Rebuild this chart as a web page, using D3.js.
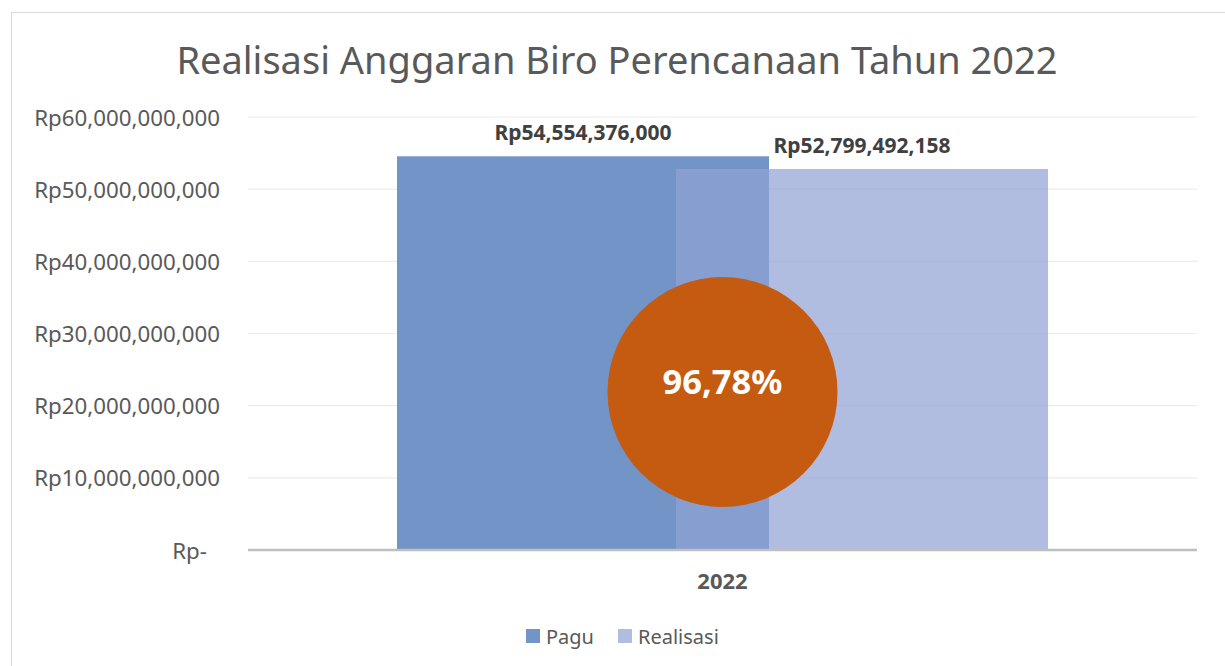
<!DOCTYPE html>
<html>
<head>
<meta charset="utf-8">
<script src="https://cdn.jsdelivr.net/npm/d3@7"></script>
<style>
  html, body { margin: 0; padding: 0; background: #fff; }
  svg { display: block; font-family: "Noto Sans", "Open Sans", sans-serif; }
</style>
</head>
<body>
<svg id="chart" width="1225" height="666"></svg>
<script>
// data
const title = "Realisasi Anggaran Biro Perencanaan Tahun 2022";
const categories = ["2022"];
const seriesNames = ["Pagu", "Realisasi"];
const paguValues = [54554376000];
const realisasiValues = [52799492158];
const yTicks = [0, 10e9, 20e9, 30e9, 40e9, 50e9, 60e9];
const percentLabel = "96,78%";

const colors = { Pagu: "#7294c6", Realisasi: "#8fa2d3" };
const realisasiOpacity = 0.71;

const W = 1225, H = 666;
const svg = d3.select("#chart");

// outer frame
svg.append("rect")
  .attr("x", 11.5).attr("y", 12.5)
  .attr("width", W + 10).attr("height", H + 10)
  .attr("fill", "none").attr("stroke", "#d9d9d9").attr("stroke-width", 1);

const margin = { left: 248, right: 28, top: 117, bottom: 116 };
const plotBottom = H - margin.bottom;

const y = d3.scaleLinear().domain([0, 60e9]).range([plotBottom, margin.top]);
const x = d3.scaleBand().domain(categories).range([margin.left, W - margin.right]);

const fmt = v => v === 0 ? "Rp-" : "Rp" + d3.format(",")(v);

// gridlines
svg.append("g")
  .selectAll("line")
  .data(yTicks.filter(d => d > 0))
  .join("line")
  .attr("x1", margin.left).attr("x2", W - margin.right)
  .attr("y1", d => y(d)).attr("y2", d => y(d))
  .attr("stroke", "#ececec").attr("stroke-width", 1.2);

// y axis labels
const yAxis = d3.axisLeft(y).tickValues(yTicks).tickFormat(fmt).tickSize(0).tickPadding(0);
const yG = svg.append("g").attr("transform", `translate(220,0)`).call(yAxis);
yG.select(".domain").remove();
yG.selectAll("text")
  .attr("fill", "#595959")
  .style("font-size", "22.3px")
  .style("font-family", "'Noto Sans', sans-serif")
  .attr("dy", "0.36em")
  .attr("x", d => d === 0 ? -13 : 0);

// bars
const groupW = x.bandwidth() * 0.686;
const barW = groupW / 1.75;
const overlap = barW * 0.25;
const gx = x("2022") + (x.bandwidth() - groupW) / 2;

const bars = [
  { name: "Pagu", value: paguValues[0], x0: gx },
  { name: "Realisasi", value: realisasiValues[0], x0: gx + barW - overlap }
];

svg.append("g").selectAll("rect")
  .data(bars)
  .join("rect")
  .attr("x", d => d.x0)
  .attr("y", d => y(d.value))
  .attr("width", barW)
  .attr("height", d => plotBottom - y(d.value))
  .attr("fill", d => colors[d.name])
  .attr("fill-opacity", d => d.name === "Realisasi" ? realisasiOpacity : 1);

// data labels
svg.append("g").selectAll("text")
  .data(bars)
  .join("text")
  .attr("x", d => d.x0 + barW / 2)
  .attr("y", d => y(d.value) - 16)
  .attr("text-anchor", "middle")
  .attr("fill", "#404040")
  .style("font-size", "21px")
  .style("font-weight", "bold")
  .text(d => "Rp" + d3.format(",")(d.value));

// baseline
svg.append("line")
  .attr("x1", margin.left).attr("x2", W - margin.right)
  .attr("y1", plotBottom).attr("y2", plotBottom)
  .attr("stroke", "#bfbfbf").attr("stroke-width", 2.5);

// category label
svg.append("text")
  .attr("x", x("2022") + x.bandwidth() / 2)
  .attr("y", plotBottom + 39)
  .attr("text-anchor", "middle")
  .attr("fill", "#595959")
  .style("font-size", "22px")
  .style("font-weight", "bold")
  .text(categories[0]);

// percentage circle
const cx = x("2022") + x.bandwidth() / 2;
svg.append("circle")
  .attr("cx", cx).attr("cy", 392)
  .attr("r", 115)
  .attr("fill", "#c55a11");
svg.append("text")
  .attr("x", cx).attr("y", 394)
  .attr("text-anchor", "middle")
  .attr("fill", "#ffffff")
  .style("font-size", "34.5px")
  .style("font-weight", "bold")
  .text(percentLabel);

// title
svg.append("text")
  .attr("x", 617).attr("y", 74)
  .attr("text-anchor", "middle")
  .attr("fill", "#595959")
  .style("font-size", "38px")
  .text(title);

// legend
const legend = svg.append("g").attr("transform", "translate(526,629)");
const legendItems = legend.selectAll("g")
  .data(seriesNames)
  .join("g")
  .attr("transform", (d, i) => `translate(${i * 92},0)`);
legendItems.append("rect")
  .attr("width", 14).attr("height", 14)
  .attr("fill", d => colors[d])
  .attr("fill-opacity", d => d === "Realisasi" ? realisasiOpacity : 1);
legendItems.append("text")
  .attr("x", 20).attr("y", 14.5)
  .attr("fill", "#595959")
  .style("font-size", "20px")
  .text(d => d);
</script>
</body>
</html>
